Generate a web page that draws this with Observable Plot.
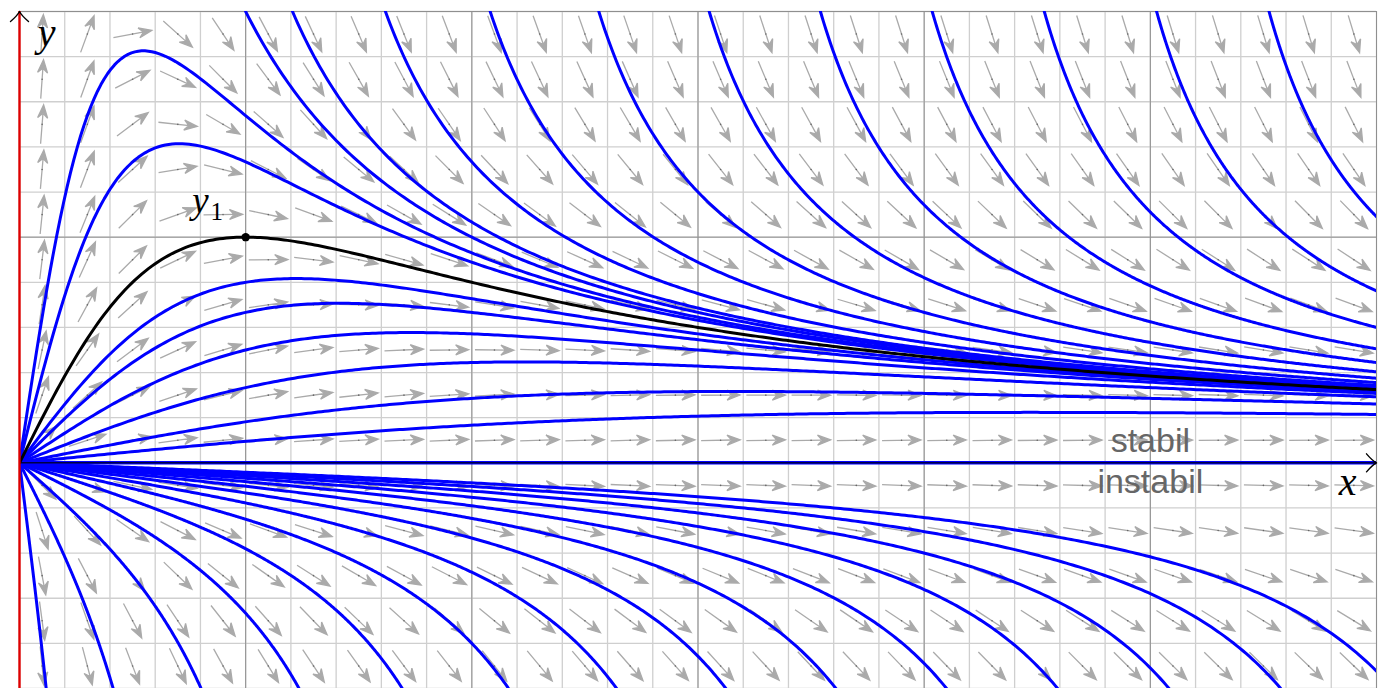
<!DOCTYPE html>
<html>
<head>
<meta charset="utf-8">
<script src="https://cdn.jsdelivr.net/npm/d3@7"></script>
<script src="https://cdn.jsdelivr.net/npm/@observablehq/plot@0.6"></script>
<style>
  html, body { margin: 0; padding: 0; background: #fff; }
  #chart svg { display: block; }
</style>
</head>
<body>
<div id="chart"></div>
<script>
// ---------- data ----------
const xDomain = [0, 6];
const yDomain = [-1, 2];
const majorTicksX = [1, 2, 3, 4, 5, 6];
const majorTicksY = [-1, 1, 2];
const minorStep = 0.2;

// solution family of y' = y/x - y^2 :  y = 2x / (x^2 + c)
const cRising  = [0.3, 0.5, 1.5, 2, 3, 5, 10, 20];          // blue curves above the x-axis
const cY1      = [1];                                        // black curve y1
const cFalling = [0, -0.25, -1, -2.25, -4, -6.25, -9, -12.25,
                  -16, -20.25, -25, -30.25, -36, -42.25, -49]; // curves with a pole
const y1Point  = [{x: 1, y: 1}];

const labelsAxis = [
  {x: 0.12, y: 1.848, t: "y"},
  {x: 5.872, y: -0.142, t: "x"}
];
const labelsY1 = [{x: 0.80, y: 1.108, t: "y"}];
const labelsSub = [{x: 0.872, y: 1.077, t: "1"}];
const labelsText = [
  {x: 5.0, y: 0.049, t: "stabil"},
  {x: 5.0, y: -0.133, t: "instabil"}
];

// ---------- derived ----------
const f = (x, c) => 2 * x / (x * x + c);
const slope = (x, y) => y / x - y * y;

function sample(x0, x1, c, id, n = 400) {
  return d3.range(n + 1).map(i => {
    const x = x0 + (x1 - x0) * i / n;
    return {x, y: f(x, c), id};
  });
}
const blueCurves = [];
cRising.forEach((c, k) => blueCurves.push(...sample(0, 6, c, "r" + k)));
cFalling.forEach((c, k) => {
  const a = -c;
  if (a > 0) {
    const xe = Math.min(-1 + Math.sqrt(1 + a), 6);
    blueCurves.push(...sample(0, xe, c, "l" + k));
  }
  const xs = (1 + Math.sqrt(1 + 4 * a)) / 2;
  if (xs < 6) blueCurves.push(...sample(xs, 6, c, "u" + k));
});
const blackCurve = sample(0, 6, cY1[0], "y1");

const minorX = d3.range(0, 6 + 1e-9, minorStep);
const minorY = d3.range(-1, 2 + 1e-9, minorStep);

const field = [];
for (let i = 0; i < 30; i++) {
  for (let j = 0; j < 15; j++) {
    const x = 0.1 + minorStep * i, y = -0.9 + minorStep * j;
    field.push({x, y, angle: Math.atan2(1, slope(x, y)) * 180 / Math.PI});
  }
}

// arrow shapes
const stealth = {
  draw(ctx, l) {
    const h = 13, w = 5;
    ctx.moveTo(0, 0);
    ctx.lineTo(0, -l + h * 0.6);
    ctx.moveTo(0, -l);
    ctx.lineTo(w, -l + h);
    ctx.lineTo(0, -l + h * 0.65);
    ctx.lineTo(-w, -l + h);
    ctx.closePath();
  }
};
const caret = {
  draw(ctx) {
    ctx.moveTo(-9, 10);
    ctx.quadraticCurveTo(-2, 4, 0, 0);
    ctx.quadraticCurveTo(2, 4, 9, 10);
  }
};
const axisTips = [{x: 6, y: 0, r: 90}, {x: 0, y: 2, r: 0}];

const chart = Plot.plot({
  width: 1384,
  height: 688,
  marginLeft: 19,
  marginRight: 8,
  marginTop: 11,
  marginBottom: 0,
  x: {domain: xDomain, axis: null},
  y: {domain: yDomain, axis: null},
  style: {background: "#fff", overflow: "visible"},
  marks: [
    Plot.ruleX(minorX, {stroke: "#cfcfcf", strokeWidth: 1.3}),
    Plot.ruleY(minorY, {stroke: "#cfcfcf", strokeWidth: 1.3}),
    Plot.ruleX(majorTicksX, {stroke: "#8f8f8f", strokeWidth: 1}),
    Plot.ruleY(majorTicksY, {stroke: "#8f8f8f", strokeWidth: 1}),
    Plot.vector(field, {
      x: "x", y: "y", rotate: "angle", length: 39, anchor: "middle",
      shape: stealth, stroke: "#aaaaaa", fill: "#aaaaaa", strokeWidth: 1.3,
      strokeLinecap: "butt", strokeLinejoin: "miter"
    }),
    Plot.dot(field, {x: "x", y: "y", r: 0.8, fill: "#666", stroke: null}),
    Plot.line(blueCurves, {x: "x", y: "y", z: "id", stroke: "#0000ff", strokeWidth: 3, clip: true}),
    Plot.ruleY([0], {stroke: "#0000ff", strokeWidth: 3.5}),
    Plot.ruleY([0], {stroke: "#000044", strokeWidth: 1.5}),
    Plot.line(blackCurve, {x: "x", y: "y", stroke: "#000", strokeWidth: 3, clip: true}),
    Plot.dot(y1Point, {x: "x", y: "y", r: 4.2, fill: "#000", stroke: null}),
    Plot.ruleX([0], {stroke: "#000", strokeWidth: 1}),
    Plot.ruleX([0], {stroke: "#dd0000", strokeWidth: 2.4}),
    Plot.vector(axisTips, {
      x: "x", y: "y", rotate: "r", length: 1, anchor: "start", shape: caret,
      stroke: "#000", fill: "none", strokeWidth: 1.4
    }),
    Plot.text(labelsAxis, {
      x: "x", y: "y", text: "t", lineAnchor: "bottom", textAnchor: "middle",
      fontFamily: "Liberation Serif", fontStyle: "italic", fontSize: 40, fill: "#000"
    }),
    Plot.text(labelsY1, {
      x: "x", y: "y", text: "t", lineAnchor: "bottom", textAnchor: "middle",
      fontFamily: "Liberation Serif", fontStyle: "italic", fontSize: 37, fill: "#000"
    }),
    Plot.text(labelsSub, {
      x: "x", y: "y", text: "t", lineAnchor: "bottom", textAnchor: "middle",
      fontFamily: "Liberation Serif", fontSize: 25, fill: "#000"
    }),
    Plot.text(labelsText, {
      x: "x", y: "y", text: "t", lineAnchor: "bottom", textAnchor: "middle",
      fontFamily: "Liberation Sans", fontSize: 34, fill: "#666"
    })
  ]
});
document.getElementById("chart").appendChild(chart);
</script>
</body>
</html>
